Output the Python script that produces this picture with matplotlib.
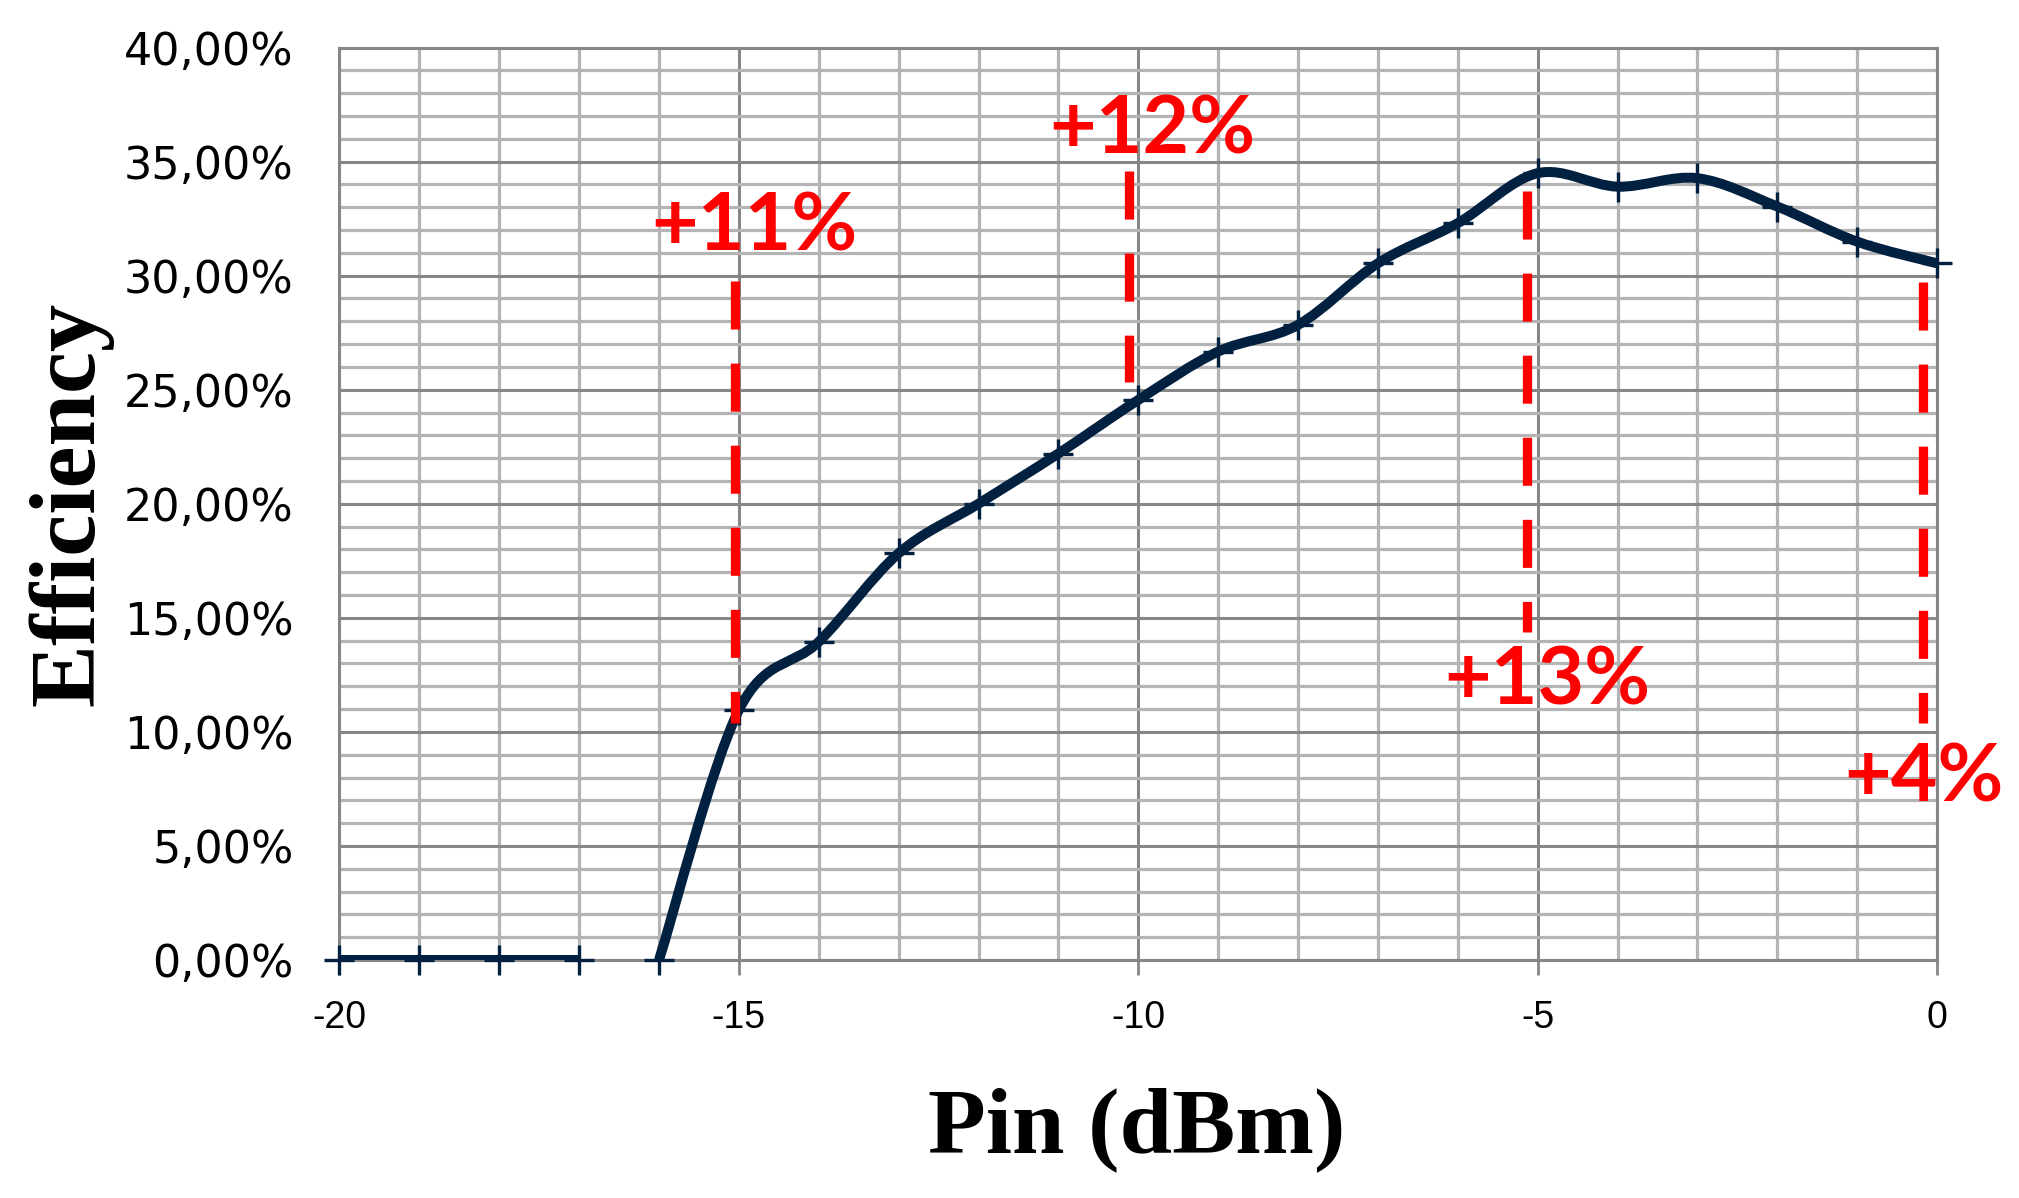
import matplotlib
matplotlib.use("Agg")
import matplotlib.pyplot as plt
import numpy as np
from matplotlib.path import Path
from matplotlib.patches import PathPatch
from matplotlib.ticker import FuncFormatter

# measured efficiency (%) vs input power (dBm)
pin_flat = [-20, -19, -18, -17]
eff_flat = [0.0, 0.0, 0.0, 0.0]
pin_curve = [-16, -15, -14, -13, -12, -11, -10, -9, -8, -7, -6, -5, -4, -3, -2, -1, 0]
eff_curve = [0.0, 10.96, 13.95, 17.83, 20.0, 22.2, 24.55, 26.67, 27.84, 30.54,
             32.3, 34.49, 33.9, 34.27, 33.03, 31.49, 30.54]

# red improvement markers
gain_labels = ['+11%', '+12%', '+13%', '+4%']
gain_x = [-14.80, -9.83, -4.88, -0.16]
gain_y = [31.10, 35.37, 11.18, 6.94]
mark_x = [-15.05, -10.11, -5.13, -0.175]
mark_top = [29.77, 34.59, 33.71, 29.74]
mark_bottom = [10.39, 25.35, 14.38, 10.39]

LINE = '#02203f'
MAJOR = '#878787'
MINOR = '#b4b4b4'


def smooth_path(xs, ys):
    """Excel-like smoothed line as cubic bezier segments"""
    pts = np.column_stack([xs, ys]).astype(float)
    n = len(pts)
    verts = [pts[0]]
    codes = [Path.MOVETO]
    for i in range(n - 1):
        p0 = pts[i - 1] if i > 0 else pts[i]
        p1 = pts[i]
        p2 = pts[i + 1]
        p3 = pts[i + 2] if i + 2 < n else pts[i + 1]
        verts += [p1 + (p2 - p0) / 6, p2 - (p3 - p1) / 6, p2]
        codes += [Path.CURVE4] * 3
    return Path(verts, codes)


plt.rcParams['lines.scale_dashes'] = False
plt.rcParams['axes.unicode_minus'] = False

fig = plt.figure(figsize=(20.19, 11.98), dpi=100)
ax = fig.add_axes([0.16815, 0.19866, 0.79124, 0.76169])

ax.set_xlim(-20, 0)
ax.set_ylim(0, 40)
ax.set_xticks(np.arange(-20, 1, 5))
ax.set_xticks(np.arange(-20, 1, 1), minor=True)
ax.set_yticks(np.arange(0, 41, 5))
ax.set_yticks(np.arange(0, 41, 1), minor=True)
ax.set_axisbelow(True)
ax.grid(which='minor', color=MINOR, lw=2.3)
ax.grid(which='major', color=MAJOR, lw=2.2)

for s in ax.spines.values():
    s.set_color(MAJOR)
    s.set_linewidth(2.2)

ax.yaxis.set_major_formatter(FuncFormatter(lambda v, p: f'{v:.2f}%'.replace('.', ',')))
ax.tick_params(axis='y', which='both', length=0, pad=33, labelsize=32,
               labelfontfamily='DejaVu Sans')
ax.tick_params(axis='x', which='major', length=11, width=2, color=MAJOR, pad=18,
               labelsize=27, labelfontfamily='Liberation Sans')
ax.tick_params(axis='x', which='minor', length=0)

# efficiency curve
ax.plot(pin_flat, eff_flat, color=LINE, lw=7.2, solid_capstyle='butt', zorder=3)
ax.add_patch(PathPatch(smooth_path(pin_curve, eff_curve), fill=False, edgecolor=LINE,
                       lw=7.2, joinstyle='round', capstyle='butt', zorder=3))
ax.plot(pin_flat + pin_curve, eff_flat + eff_curve, linestyle='none', marker='+',
        markersize=21, markeredgewidth=2.4, color=LINE, zorder=4, clip_on=False)

# red dashed markers and labels
for x, top, bot in zip(mark_x, mark_top, mark_bottom):
    ax.plot([x, x], [top, bot], color='#ff0000', lw=6.7, dashes=(34.6, 24.5),
            dash_capstyle='butt', zorder=5)
for lab, x, y in zip(gain_labels, gain_x, gain_y):
    ax.text(x, y, lab, ha='center', va='baseline', color='#ff0000', fontsize=58,
            fontfamily='Lato', fontweight='bold', zorder=6, clip_on=False)

fig.text(93 / 2019, 0.579, 'Efficiency', rotation=90, rotation_mode='anchor',
         ha='center', va='baseline', fontsize=68, fontweight='bold',
         fontfamily='Liberation Serif')
fig.text(1137 / 2019, 1 - 1151.7 / 1198, 'Pin (dBm)', ha='center', va='baseline',
         fontsize=68, fontweight='bold', fontfamily='Liberation Serif')

fig.savefig('out.png', dpi=100, facecolor='white')
